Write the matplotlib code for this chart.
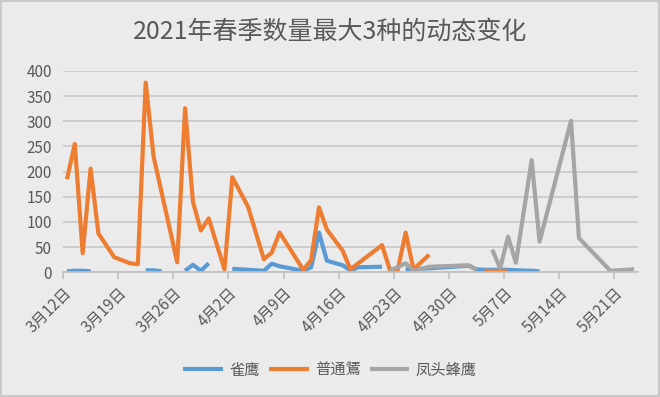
import numpy as np
import pandas as pd
import matplotlib
matplotlib.use("Agg")
import matplotlib.pyplot as plt
from matplotlib.patches import Rectangle

plt.rcParams['font.family'] = ['Noto Sans CJK SC', 'DejaVu Sans']

nan = np.nan
title = "2021年春季数量最大3种的动态变化"
series_names = ["雀鹰", "普通鵟", "凤头蜂鹰"]

# survey dates as day offsets from 2021-03-12
start_date = "2021-03-12"
day_offsets = [0, 1, 2, 3, 4, 6, 8, 9, 10, 11, 12, 13, 14, 15, 16, 17, 18, 20,
               21, 23, 25, 26, 27, 30, 31, 32, 33, 35, 36, 37, 40, 41, 42, 43,
               44, 46, 51, 52, 53, 54, 55, 56, 57, 59, 60, 64, 65, 69, 72]
quehying = [2, 3, 3, 2, nan, nan, nan, nan, 4, 4, 2, nan, nan, 3, 15, 3, 18, nan,
            7, 5, 3, 17, 12, 3, 10, 79, 23, 14, 4, 10, 11, nan, nan, 6,
            6, 8, 13, 6, 5, 5, 5, 5, 4, 3, 2, nan, nan, nan, nan]
putongkuang = [185, 255, 38, 206, 77, 30, 18, 16, 377, 230, 160, 90, 20, 326, 140, 83, 107, 6,
               189, 130, 26, 39, 79, 5, 24, 129, 85, 43, 6, 18, 54, 5, 5, 79,
               6, 35, nan, nan, 3, 2, 2, 3, nan, nan, nan, nan, nan, nan, nan]
fengtoufengying = [nan, nan, nan, nan, nan, nan, nan, nan, nan, nan, nan, nan, nan, nan, nan, nan, nan, nan,
                   nan, nan, nan, nan, nan, nan, nan, nan, nan, nan, nan, nan, nan, 4, 10, 18,
                   3, 11, 14, 5, nan, 45, 8, 71, 19, 223, 61, 301, 68, 3, 6]
colors = ["#5b9bd5", "#ed7d31", "#a5a5a5"]
yticks = [0, 50, 100, 150, 200, 250, 300, 350, 400]

t0 = pd.Timestamp(start_date)
dates = [t0 + pd.Timedelta(days=d) for d in day_offsets]
x = np.array([(d - t0).days for d in dates], dtype=float) + 0.5

fig = plt.figure(figsize=(6.6, 3.97), dpi=100)
bg = "#ebebeb"
fig.patch.set_facecolor(bg)
fig.patches.append(Rectangle((0.002, 0.003), 0.996, 0.994, transform=fig.transFigure,
                             fill=False, edgecolor="#c9c9c9", linewidth=1.5))

ax = fig.add_axes([63 / 660, 1 - 272.3 / 397, (638 - 63) / 660, (272.3 - 71) / 397])
ax.set_facecolor(bg)

for vals, name, c in zip([quehying, putongkuang, fengtoufengying], series_names, colors):
    ax.plot(x, np.array(vals, dtype=float), color=c, lw=3.0, label=name,
            solid_joinstyle="round", solid_capstyle="butt")

ax.set_ylim(0, 400)
ax.set_xlim(0, 73)
ax.set_yticks(yticks)
ax.set_yticklabels([str(v) for v in yticks])
ax.yaxis.grid(True, color="#c8c8c8", lw=1.2)
ax.set_axisbelow(True)
xt = list(range(0, 71, 7))
ax.set_xticks(xt)
labs = []
for d in xt:
    dd = t0 + pd.Timedelta(days=d)
    labs.append(f"{dd.month}月{dd.day}日")
ax.set_xticklabels(labs, rotation=45, ha="right", rotation_mode="anchor")
for s in ["top", "right", "left"]:
    ax.spines[s].set_visible(False)
ax.spines["bottom"].set_color("#c0c0c0")
ax.spines["bottom"].set_linewidth(1.2)
ax.tick_params(axis="y", length=0, pad=8, labelsize=11, labelcolor="#595959")
ax.tick_params(axis="x", length=5, width=1.2, color="#c0c0c0", pad=4, labelsize=11, labelcolor="#595959")

fig.text(0.5, 1 - 32 / 397, title, ha="center", va="center", fontsize=18, color="#595959")

leg = fig.legend(loc="center", bbox_to_anchor=(0.5, 1 - 370 / 397), ncol=3, frameon=False,
                 fontsize=11, handlelength=2.6, columnspacing=0.6, handletextpad=0.4,
                 labelcolor="#595959")

fig.savefig("out.png", dpi=100, facecolor=bg)
